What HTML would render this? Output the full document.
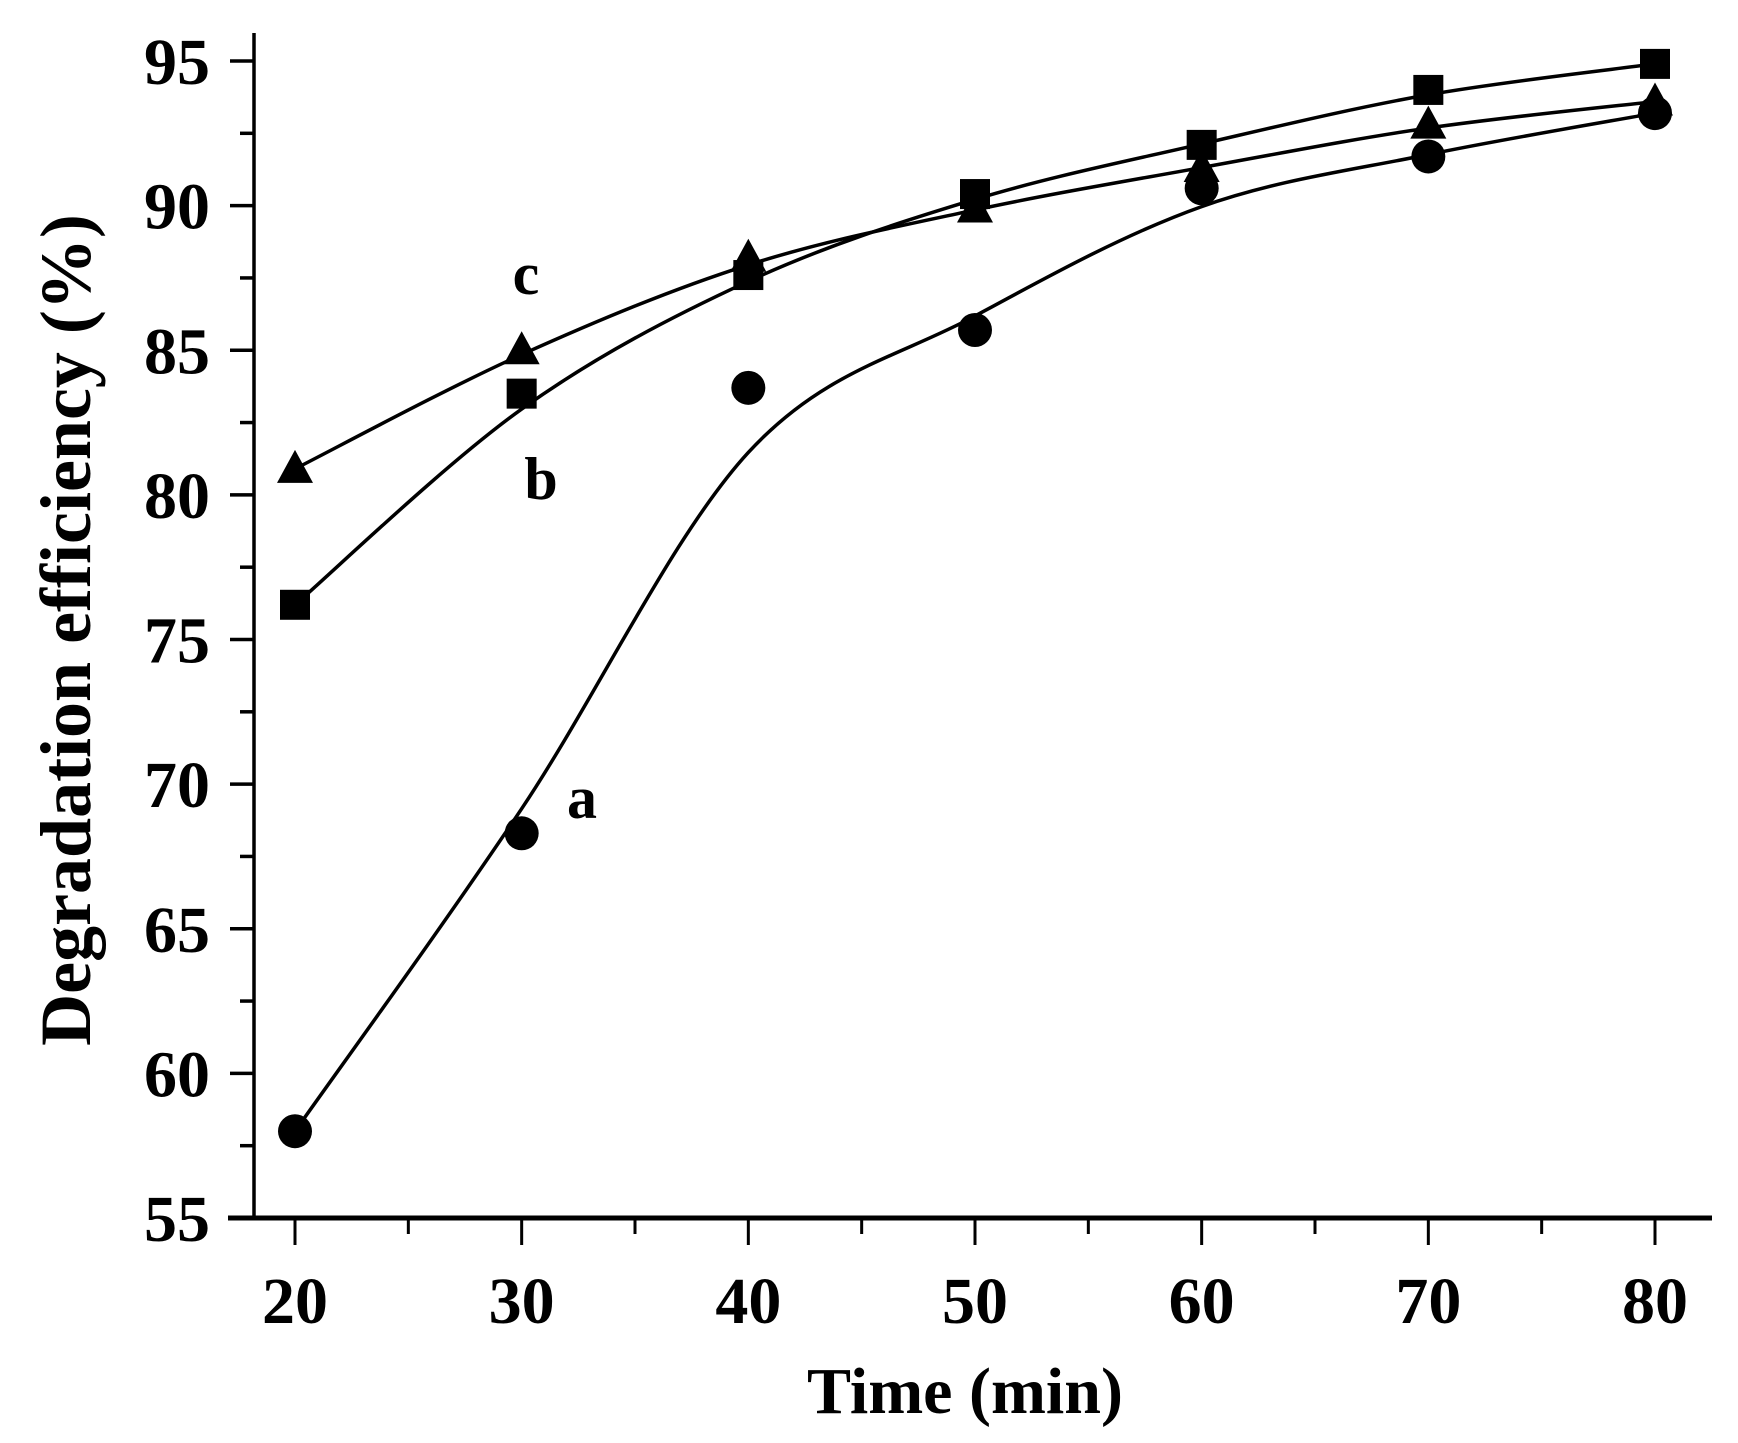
<!DOCTYPE html>
<html><head><meta charset="utf-8">
<style>
html,body{margin:0;padding:0;background:#fff;}
svg{display:block;}
text{font-family:"Liberation Serif",serif;font-weight:bold;fill:#000;}
</style></head>
<body>
<svg id="chart" width="1738" height="1443" viewBox="0 0 1738 1443" xmlns="http://www.w3.org/2000/svg">
<g id="axes"></g>
<g id="series"></g>
<text x="965" y="1413" font-size="66" text-anchor="middle">Time (min)</text>
<text transform="translate(90,630) rotate(-90)" font-size="72" text-anchor="middle">Degradation efficiency (%)</text>
<text x="526" y="294" font-size="60" text-anchor="middle">c</text>
<text x="541" y="499" font-size="60" text-anchor="middle">b</text>
<text x="582" y="818" font-size="60" text-anchor="middle">a</text>
</svg>
<script>
const times = [20,30,40,50,60,70,80];
const seriesA = [58.0,68.3,83.7,85.7,90.6,91.7,93.2];
const seriesB = [76.2,83.5,87.6,90.4,92.1,94.0,94.9];
const seriesC = [80.9,85.0,88.2,89.9,91.3,92.8,93.6];
const xTicks = [20,30,40,50,60,70,80];
const yTicks = [55,60,65,70,75,80,85,90,95];

const NS='http://www.w3.org/2000/svg';
const X0=295,X1=1655,Y55=1218,Y95=61;
function sx(v){return X0+(v-20)*(X1-X0)/60;}
function sy(v){return Y55-(v-55)*(Y55-Y95)/40;}
function mk(tag,attrs,parent){const e=document.createElementNS(NS,tag);for(const k in attrs)e.setAttribute(k,attrs[k]);parent.appendChild(e);return e;}
const axes=document.getElementById('axes');
const ser=document.getElementById('series');

let yl=mk('line',{x1:254,y1:33,x2:254,y2:1220,stroke:'#000','stroke-width':3.5},axes);


let xl=mk('line',{x1:228,y1:Y55,x2:1712,y2:Y55,stroke:'#000','stroke-width':5},axes);



yTicks.forEach(v=>{
  const y=sy(v);
  let t=mk('line',{x1:230,y1:y,x2:254,y2:y,stroke:'#000','stroke-width':3.5},axes);
  
  
  if(v<95){const ym=sy(v+2.5);
    let m=mk('line',{x1:240,y1:ym,x2:254,y2:ym,stroke:'#000','stroke-width':3.5},axes);
    
    }
  let l=mk('text',{x:210,y:y+23,'font-size':66,'text-anchor':'end'},axes);
  l.textContent=v;
  
  
});
xTicks.forEach((v,i)=>{
  const x=sx(v);
  let t=mk('line',{x1:x,y1:Y55,x2:x,y2:Y55+27,stroke:'#000','stroke-width':3},axes);
  
  
  if(i<xTicks.length-1){const xm=sx(v+5);
    let m=mk('line',{x1:xm,y1:Y55,x2:xm,y2:Y55+16,stroke:'#000','stroke-width':3},axes);
    
    }
  let l=mk('text',{x:x,y:1323,'font-size':66,'text-anchor':'middle'},axes);
  l.textContent=v;
  
  
});

function smoothVals(vals){
  return vals.map((v,i)=>(i===0||i===vals.length-1)?v:(vals[i-1]+4*v+vals[i+1])/6);
}
function smoothPath(raw){
  const vals=smoothVals(raw);
  const p=vals.map((v,i)=>[sx(times[i]),sy(v)]);
  let d='M'+p[0][0]+','+p[0][1];
  for(let i=0;i<p.length-1;i++){
    const p0=p[Math.max(0,i-1)],p1=p[i],p2=p[i+1],p3=p[Math.min(p.length-1,i+2)];
    const c1=[p1[0]+(p2[0]-p0[0])/6,p1[1]+(p2[1]-p0[1])/6];
    const c2=[p2[0]-(p3[0]-p1[0])/6,p2[1]-(p3[1]-p1[1])/6];
    d+=' C'+c1[0]+','+c1[1]+' '+c2[0]+','+c2[1]+' '+p2[0]+','+p2[1];
  }
  return d;
}
function drawSeries(vals,name,shape){
  let path=mk('path',{d:smoothPath(vals),fill:'none',stroke:'#000','stroke-width':3.5},ser);
  
  
  vals.forEach((v,i)=>{
    const x=sx(times[i]),y=sy(v);let m;
    if(shape==='circle') m=mk('circle',{cx:x,cy:y,r:17,fill:'#000'},ser);
    else if(shape==='square') m=mk('rect',{x:x-15,y:y-15,width:30,height:30,fill:'#000'},ser);
    else m=mk('polygon',{points:`${x},${y-19} ${x-18},${y+14} ${x+18},${y+14}`,fill:'#000'},ser);
    
    
  });
}
drawSeries(seriesA,'series-a','circle');
drawSeries(seriesB,'series-b','square');
drawSeries(seriesC,'series-c','triangle');
</script>
</body></html>
